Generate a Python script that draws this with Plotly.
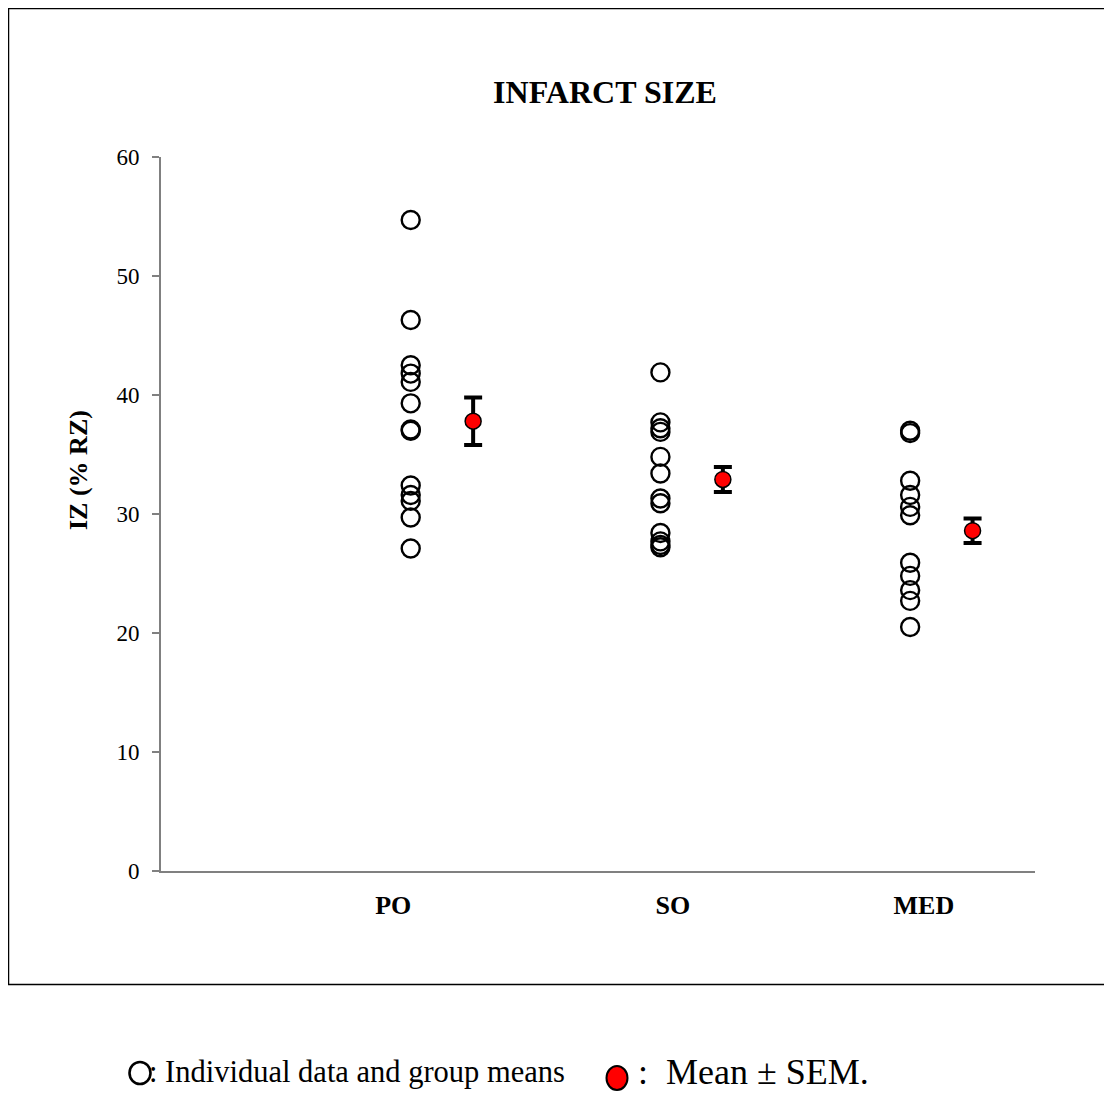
import plotly.graph_objects as go

# ---- data ----
groups = ["PO", "SO", "MED"]
po_values = [54.7, 46.3, 42.5, 41.8, 41.1, 39.3, 37.1, 37.0, 32.4, 31.6, 31.1, 29.7, 27.1]
so_values = [41.9, 37.7, 37.2, 36.9, 34.8, 33.4, 31.3, 30.9, 28.4, 27.7, 27.4, 27.2]
med_values = [37.0, 36.8, 32.8, 31.6, 30.6, 29.9, 25.9, 24.8, 23.6, 22.7, 20.5]
group_means = [37.8, 32.9, 28.6]
group_sem = [2.0, 1.05, 1.03]
y_ticks = [0, 10, 20, 30, 40, 50, 60]

# ---- layout constants (page pixels; page body has an 8px margin) ----
OFF = 8
W, H = 1112 - 2 * OFF, 1093 - OFF
L, R, T, B = 161 - OFF, 1035 - OFF, 157 - OFF, 871 - OFF
indiv_x = [1, 2, 3]
mean_x = [1.25, 2.25, 3.25]
label_x = [0.93, 2.05, 3.055]
FONT = "Liberation Serif, Times New Roman, serif"

fig = go.Figure()

for gx, vals in zip(indiv_x, [po_values, so_values, med_values]):
    fig.add_trace(go.Scatter(
        x=[gx] * len(vals), y=vals, mode="markers",
        marker=dict(symbol="circle-open", size=18, color="black",
                    line=dict(width=2.4, color="black")),
        showlegend=False, hoverinfo="y"))

fig.add_trace(go.Scatter(
    x=mean_x, y=group_means, mode="markers",
    marker=dict(symbol="circle", size=16, color="#ff0000",
                line=dict(width=1.5, color="black")),
    error_y=dict(type="data", array=group_sem, visible=True,
                 color="black", thickness=4, width=9),
    showlegend=False))


def px_x(p):
    return (p - OFF - L) / (R - L)


def px_y(p):
    return (B - (p - OFF)) / (B - T)


shapes = [
    # outer frame
    dict(type="rect", xref="paper", yref="paper",
         x0=px_x(8.5), x1=px_x(1130), y0=px_y(8.5), y1=px_y(984.5),
         line=dict(color="black", width=1.5), layer="below"),
    # legend symbols
    dict(type="circle", xref="paper", yref="paper", xsizemode="pixel", ysizemode="pixel",
         xanchor=px_x(140), yanchor=px_y(1073), x0=-10.5, x1=10.5, y0=-11, y1=11,
         line=dict(color="black", width=2.6)),
    dict(type="circle", xref="paper", yref="paper", xsizemode="pixel", ysizemode="pixel",
         xanchor=px_x(617), yanchor=px_y(1078), x0=-10.5, x1=10.5, y0=-12, y1=12,
         fillcolor="#ff0000", line=dict(color="black", width=2)),
]

annotations = [
    dict(text="<b>IZ (% RZ)</b>", textangle=-90, xref="paper", yref="paper",
         x=px_x(78), y=px_y(470), xanchor="center", yanchor="middle", showarrow=False,
         font=dict(family=FONT, size=26, color="black")),
    dict(text=": Individual data and group means", xref="paper", yref="paper",
         x=px_x(147), y=px_y(1072), xanchor="left", yanchor="middle", showarrow=False,
         font=dict(family=FONT, size=30.5, color="black")),
    dict(text=":  Mean ± SEM.", xref="paper", yref="paper",
         x=px_x(636), y=px_y(1072), xanchor="left", yanchor="middle", showarrow=False,
         font=dict(family=FONT, size=36, color="black")),
]

fig.update_layout(
    width=W, height=H,
    margin=dict(l=L, r=W - R, t=T, b=H - B, pad=0),
    paper_bgcolor="white", plot_bgcolor="white",
    title=dict(text="<b>INFARCT SIZE</b>", x=(605 - OFF) / W, xanchor="center",
               y=1 - (92 - OFF) / H, yanchor="middle",
               font=dict(family=FONT, size=32, color="black")),
    xaxis=dict(range=[0, 3.5], showgrid=False, zeroline=False,
               showline=True, linecolor="#808080", linewidth=2,
               tickmode="array", tickvals=label_x, ticktext=[f"<b>{g}</b>" for g in groups],
               ticks="", ticklabelstandoff=10,
               tickfont=dict(family=FONT, size=26, color="black")),
    yaxis=dict(range=[0, 60], showgrid=False, zeroline=False,
               showline=True, linecolor="#808080", linewidth=2,
               tickmode="array", tickvals=y_ticks,
               ticks="outside", ticklen=7, tickwidth=2, tickcolor="#808080",
               ticklabelstandoff=8,
               tickfont=dict(family=FONT, size=23, color="black")),
    shapes=shapes, annotations=annotations,
    font=dict(family=FONT),
)

fig.write_html("out.html")
